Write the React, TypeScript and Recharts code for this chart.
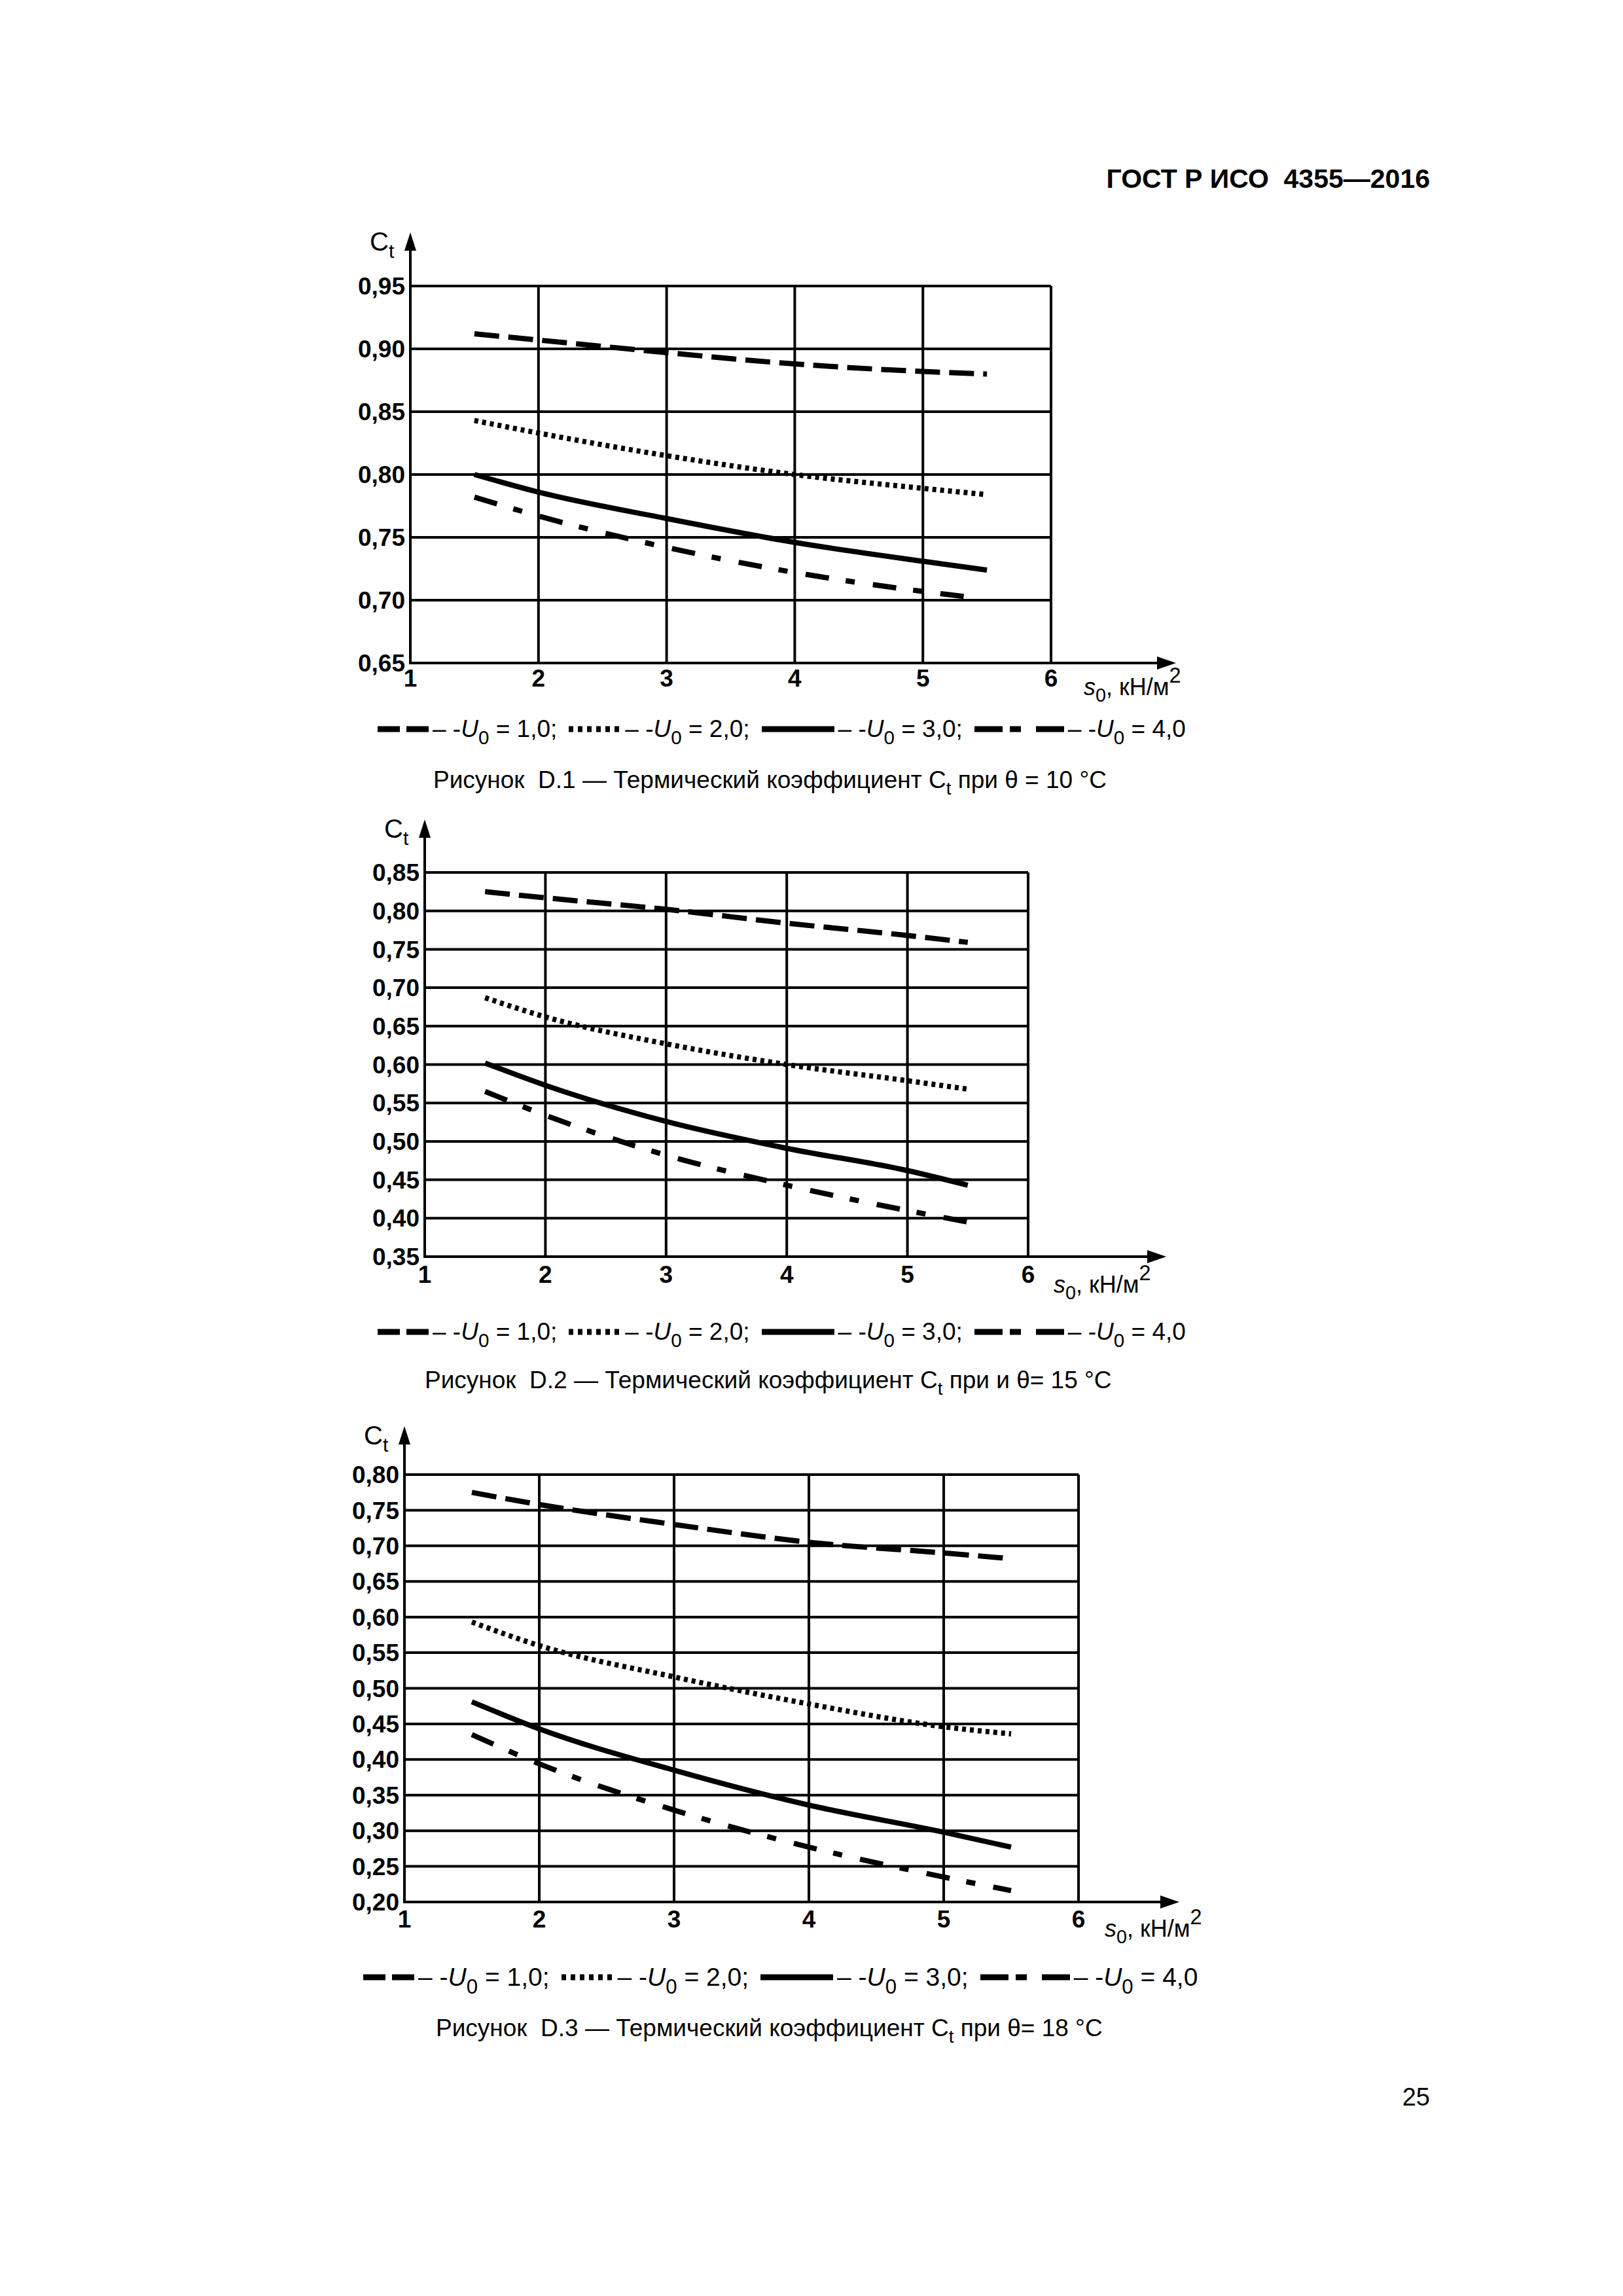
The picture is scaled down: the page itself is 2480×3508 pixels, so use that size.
import React from "react";
import { LineChart, Line, XAxis, YAxis, CartesianGrid, ReferenceLine } from "recharts";

const FONT = "'Liberation Sans', Arial, sans-serif";

// s0, кН/м2
const s0 = [1.5, 2, 3, 4, 5, 5.5];
const s0Short = [1.5, 2, 3, 4, 5, 5.4];
const xTicks = [1, 2, 3, 4, 5, 6];

// Рисунок D.1, θ = 10 °C
const d1U1 = [0.912, 0.907, 0.897, 0.888, 0.882, 0.88];
const d1U2 = [0.843, 0.833, 0.815, 0.8, 0.789, 0.784];
const d1U3 = [0.8, 0.786, 0.765, 0.746, 0.731, 0.724];
const d1U4 = [0.782, 0.767, 0.742, 0.722, 0.707, 0.702];
const d1Ticks = [0.65, 0.7, 0.75, 0.8, 0.85, 0.9, 0.95];

// Рисунок D.2, θ = 15 °C
const d2U1 = [0.825, 0.817, 0.802, 0.784, 0.768, 0.759];
const d2U2 = [0.687, 0.662, 0.627, 0.6, 0.579, 0.568];
const d2U3 = [0.602, 0.573, 0.526, 0.491, 0.462, 0.443];
const d2U4 = [0.565, 0.534, 0.482, 0.443, 0.41, 0.395];
const d2Ticks = [0.35, 0.4, 0.45, 0.5, 0.55, 0.6, 0.65, 0.7, 0.75, 0.8, 0.85];

// Рисунок D.3, θ = 18 °C
const d3U1 = [0.775, 0.758, 0.73, 0.705, 0.69, 0.682];
const d3U2 = [0.593, 0.56, 0.516, 0.478, 0.446, 0.436];
const d3U3 = [0.481, 0.443, 0.385, 0.336, 0.298, 0.277];
const d3U4 = [0.435, 0.394, 0.329, 0.277, 0.235, 0.216];
const d3Ticks = [0.2, 0.25, 0.3, 0.35, 0.4, 0.45, 0.5, 0.55, 0.6, 0.65, 0.7, 0.75, 0.8];

const u0Labels = ["1,0;", "2,0;", "3,0;", "4,0"];
const dashes = ["38 14", "6 6", undefined, "36 26 14 28"];

const toRows = (xs: number[], ys: number[]) => xs.map((x, i) => ({ x, y: ys[i] }));

const charts = [
  {
    series: [toRows(s0, d1U1), toRows(s0, d1U2), toRows(s0, d1U3), toRows(s0Short, d1U4)],
    ticks: d1Ticks,
    caption: "D.1 — Термический коэффициент ",
    captionTail: " при θ = 10 °C",
    box: { pl: 627, pr: 1606, pt: 437, pb: 1013, up: 82, right: 191, xm: 10 },
    legend: { left: 577, cy: 1114, fs: 37 },
    cap: { left: 662, cy: 1192 },
    s0Label: { dx: 50, dy: 42 },
  },
  {
    series: [toRows(s0, d2U1), toRows(s0, d2U2), toRows(s0, d2U3), toRows(s0, d2U4)],
    ticks: d2Ticks,
    caption: "D.2 — Термический коэффициент ",
    captionTail: " при и θ= 15 °C",
    box: { pl: 649, pr: 1571, pt: 1333, pb: 1920, up: 81, right: 211, xm: 14 },
    legend: { left: 577, cy: 2035, fs: 37 },
    cap: { left: 649, cy: 2109 },
    s0Label: { dx: 39, dy: 48 },
  },
  {
    series: [toRows(s0, d3U1), toRows(s0, d3U2), toRows(s0, d3U3), toRows(s0, d3U4)],
    ticks: d3Ticks,
    caption: "D.3 — Термический коэффициент ",
    captionTail: " при θ= 18 °C",
    box: { pl: 618, pr: 1648, pt: 2253, pb: 2906, up: 74, right: 154, xm: 13 },
    legend: { left: 555, cy: 3021, fs: 39 },
    cap: { left: 666, cy: 3099 },
    s0Label: { dx: 40, dy: 46 },
  },
];

const fmt = (v: number) => v.toFixed(2).replace(".", ",");

const yArrow = (up: number) => (p: any) => {
  const top = Math.min(p.y1, p.y2) - up;
  const bottom = Math.max(p.y1, p.y2);
  return (
    <g>
      <line x1={p.x1} x2={p.x1} y1={bottom + 2} y2={top + 20} stroke="#000" strokeWidth={4} />
      <polygon points={`${p.x1},${top} ${p.x1 - 9},${top + 28} ${p.x1 + 9},${top + 28}`} fill="#000" />
    </g>
  );
};

const xArrow = (right: number) => (p: any) => {
  const tip = Math.max(p.x1, p.x2) + right;
  const left = Math.min(p.x1, p.x2);
  return (
    <g>
      <line x1={left - 2} x2={tip - 20} y1={p.y1} y2={p.y1} stroke="#000" strokeWidth={4} />
      <polygon points={`${tip},${p.y1} ${tip - 29},${p.y1 - 10} ${tip - 29},${p.y1 + 10}`} fill="#000" />
    </g>
  );
};

const Sample = ({ i }: { i: number }) => {
  const w = [78, 80, 111, 137][i];
  const da = ["34 10", "7 7", undefined, "43 11 17 23"][i];
  return (
    <svg width={w} height={14} style={{ display: "block" }}>
      <line x1={0} x2={w} y1={7} y2={7} stroke="#000" strokeWidth={9} strokeDasharray={da} />
    </svg>
  );
};

const U0 = () => (
  <>
    <i>U</i>
    <span style={{ fontSize: "0.8em", position: "relative", top: "0.38em" }}>0</span>
  </>
);

function Chart({ c }: { c: (typeof charts)[number] }) {
  const { pl, pr, pt, pb, up, right, xm } = c.box;
  const TOP = 100;
  const RIGHT = 240;
  const YW = 130;
  const XH = 60;
  const BOTTOM = 20;
  const w = pr - pl + YW + RIGHT;
  const h = pb - pt + TOP + XH + BOTTOM;
  const yMin = c.ticks[0];
  const yMax = c.ticks[c.ticks.length - 1];
  const tickStyle = { fill: "#000", fontSize: 37, fontFamily: FONT, fontWeight: 700 };
  return (
    <>
      <div style={{ position: "absolute", left: pl - YW, top: pt - TOP }}>
        <LineChart width={w} height={h} margin={{ top: TOP, right: RIGHT, left: 0, bottom: BOTTOM }}>
          <CartesianGrid stroke="#000" strokeWidth={4} />
          <XAxis
            type="number"
            dataKey="x"
            domain={[1, 6]}
            ticks={xTicks}
            axisLine={false}
            tickLine={false}
            tickSize={0}
            tickMargin={xm}
            height={XH}
            tick={tickStyle}
            interval={0}
          />
          <YAxis
            type="number"
            domain={[yMin, yMax]}
            ticks={c.ticks}
            tickFormatter={fmt}
            axisLine={false}
            tickLine={false}
            tickSize={0}
            tickMargin={8}
            width={YW}
            tick={tickStyle}
            interval={0}
          />
          {c.series.map((d, i) => (
            <Line
              key={i}
              data={d}
              dataKey="y"
              type="monotone"
              stroke="#000"
              strokeWidth={8}
              strokeDasharray={dashes[i]}
              dot={false}
              activeDot={false}
              isAnimationActive={false}
            />
          ))}
          <ReferenceLine x={1} ifOverflow="visible" shape={yArrow(up)} />
          <ReferenceLine y={yMin} ifOverflow="visible" shape={xArrow(right)} />
        </LineChart>
      </div>
      <div
        style={{
          position: "absolute",
          left: pl - 62,
          top: pt - up - 6,
          fontFamily: FONT,
          fontSize: 40,
          lineHeight: "40px",
          whiteSpace: "nowrap",
        }}
      >
        C<span style={{ fontSize: "0.75em", position: "relative", top: "0.35em" }}>t</span>
      </div>
      <div
        style={{
          position: "absolute",
          left: pr + c.s0Label.dx,
          top: pb + c.s0Label.dy - 24,
          fontFamily: FONT,
          fontSize: 36,
          lineHeight: "37px",
          whiteSpace: "nowrap",
        }}
      >
        <i>s</i>
        <span style={{ fontSize: "0.8em", position: "relative", top: "0.35em" }}>0</span>, кН/м
        <span style={{ fontSize: "0.9em", position: "relative", top: "-0.6em" }}>2</span>
      </div>
      <div
        style={{
          position: "absolute",
          left: c.legend.left,
          top: c.legend.cy - 25,
          height: 50,
          display: "flex",
          alignItems: "center",
          fontFamily: FONT,
          fontSize: c.legend.fs,
          whiteSpace: "pre",
        }}
      >
        {u0Labels.map((lab, i) => (
          <React.Fragment key={i}>
            <Sample i={i} />
            <span style={{ marginLeft: 6, marginRight: i < 3 ? 18 : 0 }}>
              {"– -"}
              <U0 />
              {" = " + lab}
            </span>
          </React.Fragment>
        ))}
      </div>
      <div
        style={{
          position: "absolute",
          left: c.cap.left,
          top: c.cap.cy - 22,
          fontFamily: FONT,
          fontSize: 37,
          lineHeight: "44px",
          whiteSpace: "pre",
        }}
      >
        {"Рисунок  " + c.caption}C
        <span style={{ fontSize: "0.75em", position: "relative", top: "0.35em" }}>t</span>
        {c.captionTail}
      </div>
    </>
  );
}

export default function App() {
  return (
    <div style={{ position: "relative", width: 2480, height: 3508, background: "#fff", overflow: "hidden" }}>
      <style>{"body{margin:0}"}</style>
      <div
        style={{
          position: "absolute",
          right: 2480 - 2185,
          top: 250,
          fontFamily: FONT,
          fontWeight: 700,
          fontSize: 41,
          whiteSpace: "pre",
        }}
      >
        {"ГОСТ Р ИСО  4355—2016"}
      </div>
      {charts.map((c, i) => (
        <Chart key={i} c={c} />
      ))}
      <div
        style={{
          position: "absolute",
          right: 2480 - 2185,
          top: 3183,
          fontFamily: FONT,
          fontSize: 38,
        }}
      >
        25
      </div>
    </div>
  );
}
